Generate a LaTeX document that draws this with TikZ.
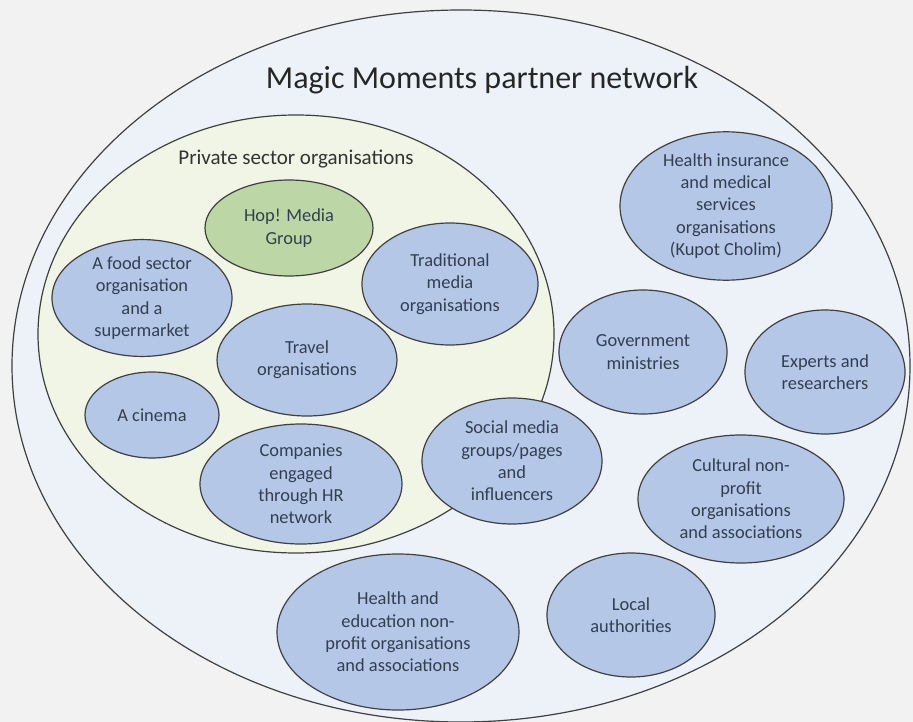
\documentclass[tikz,border=0pt]{standalone}
\usepackage{fontspec}
\setmainfont{Carlito}
\usetikzlibrary{shapes.geometric}
\definecolor{bgc}{HTML}{F2F2F2}
\definecolor{outerfill}{HTML}{EDF1F8}
\definecolor{privfill}{HTML}{F0F5E6}
\definecolor{bluefill}{HTML}{B4C7E7}
\definecolor{greenfill}{HTML}{BCD7A5}
\definecolor{edgec}{HTML}{404040}
\definecolor{txtc}{HTML}{333F4F}
\tikzset{
  bubble/.style={draw=edgec, line width=1.2pt, ellipse, inner sep=0pt, align=center,
    text=txtc, font=\fontsize{18.4}{22.3}\selectfont},
  org/.style={bubble, fill=bluefill},
  hopstyle/.style={bubble, fill=greenfill},
  region/.style={draw=edgec, line width=1.2pt, ellipse, inner sep=0pt}
}
\begin{document}
\begin{tikzpicture}[x=1pt, y=-1pt]
\useasboundingbox (0,0) rectangle (913,722);
\fill[bgc] (0,0) rectangle (913,722);
% outer network
\node[region, fill=outerfill, minimum width=898pt, minimum height=712pt] (outer) at (461,366) {};
\node[anchor=base, text=black!85, font=\fontsize{32}{38}\selectfont] (title) at (482,89) {Magic Moments partner network};
% private sector region
\node[region, fill=privfill, minimum width=516pt, minimum height=438pt] (private) at (296,334) {};
\node[anchor=base, text=black!80, font=\fontsize{21}{25}\selectfont] (privlabel) at (296,165) {Private sector organisations};
% private sector organisations
\node[hopstyle, minimum width=168pt, minimum height=96pt] (hop) at (289,228) {Hop! Media\\Group};
\node[org, minimum width=180pt, minimum height=112pt] (food) at (142,298) {A food sector\\organisation\\and a\\supermarket};
\node[org, minimum width=176pt, minimum height=122pt] (trad) at (450,284) {Traditional\\media\\organisations};
\node[org, minimum width=180pt, minimum height=112pt] (travel) at (307,360) {Travel\\organisations};
\node[org, minimum width=134pt, minimum height=86pt] (cinema) at (152,415) {A cinema};
\node[org, minimum width=202pt, minimum height=120pt] (companies) at (301,484) {Companies\\engaged\\through HR\\network};
\node[org, minimum width=180pt, minimum height=126pt] (social) at (512,461) {Social media\\groups/pages\\and\\influencers};
% other partners
\node[org, minimum width=212pt, minimum height=148pt] (healthins) at (726,206) {Health insurance\\and medical\\services\\organisations\\(Kupot Cholim)};
\node[org, minimum width=168pt, minimum height=124pt] (gov) at (643,352) {Government\\ministries};
\node[org, minimum width=160pt, minimum height=124pt] (experts) at (825,372) {Experts and\\researchers};
\node[org, minimum width=206pt, minimum height=128pt] (cultural) at (741,499) {Cultural non-\\profit\\organisations\\and associations};
\node[org, minimum width=168pt, minimum height=124pt] (local) at (631,615) {Local\\authorities};
\node[org, minimum width=242pt, minimum height=156pt] (healthedu) at (398,632) {Health and\\education non-\\profit organisations\\and associations};
\end{tikzpicture}
\end{document}
